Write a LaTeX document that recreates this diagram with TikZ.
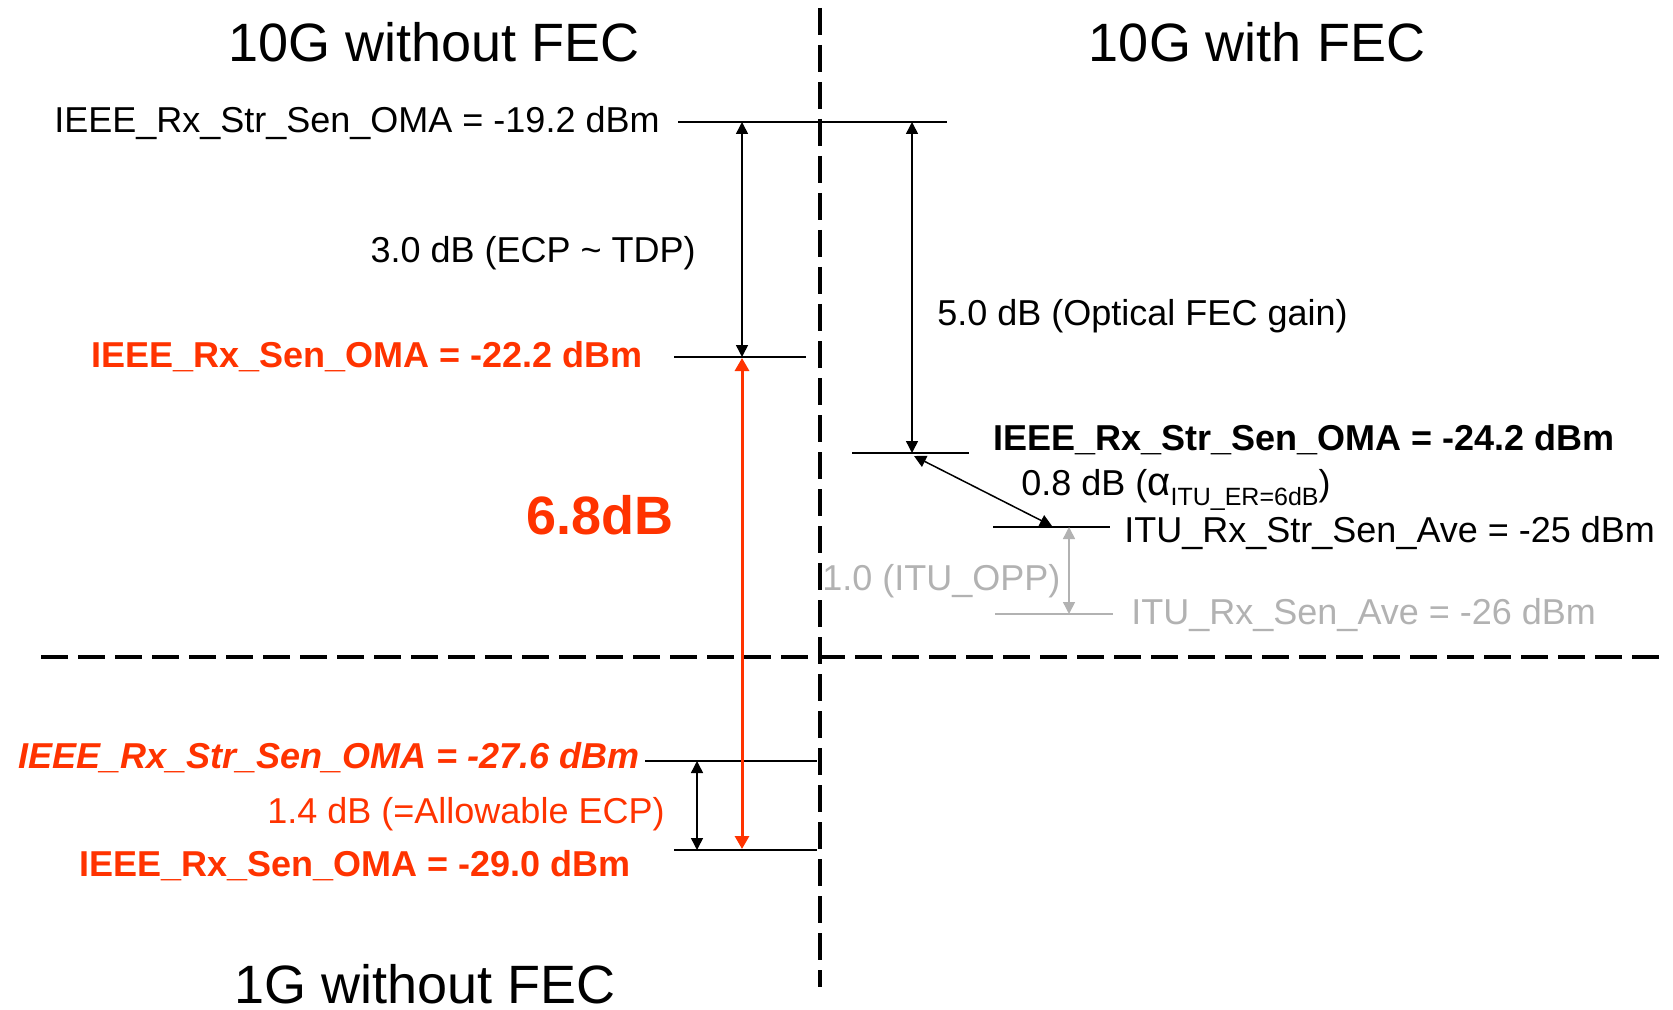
\documentclass[tikz,border=0pt]{standalone}
\usepackage{fontspec}
\setmainfont{Liberation Sans}
\usetikzlibrary{arrows.meta}
\definecolor{fecred}{RGB}{255,51,0}
\definecolor{itugrey}{RGB}{178,178,178}
\newcommand{\lblfont}{\fontsize{18}{22}\selectfont}
\newcommand{\ttlfont}{\fontsize{27}{32}\selectfont}
\begin{document}
\begin{tikzpicture}[x=0.5pt, y=-0.5pt, >={Triangle[length=6pt,width=6pt]},
  lvl/.style={line width=0.9pt},
  dim/.style={<->, line width=0.75pt},
  txt/.style={inner sep=0pt, font=\lblfont},
  ttl/.style={inner sep=0pt, font=\ttlfont, anchor=base}]
\useasboundingbox (0,0) rectangle (1673,1010);

% dashed separators
\draw[line width=1.75pt, dash pattern=on 13.5pt off 5pt] (820,8) -- (820,987);
\draw[line width=1.9pt, dash pattern=on 13.5pt off 5pt] (41,657) -- (1664,657);

% titles
\node[ttl] (h10) at (434,62) {10G without FEC};
\node[ttl] (h10f) at (1257,62) {10G with FEC};
\node[ttl] (h1) at (425,1003) {1G without FEC};

% levels
\coordinate (l1a) at (678,122);  \coordinate (l1b) at (947,122);
\coordinate (l2a) at (674,357);  \coordinate (l2b) at (806,357);
\coordinate (l3a) at (852,453);  \coordinate (l3b) at (969,453);
\coordinate (l4a) at (993,527);  \coordinate (l4b) at (1110,527);
\coordinate (l5a) at (995,614);  \coordinate (l5b) at (1113,614);
\coordinate (l6a) at (645,761);  \coordinate (l6b) at (817,761);
\coordinate (l7a) at (674,850);  \coordinate (l7b) at (817,850);
\draw[lvl] (l1a) -- (l1b);
\draw[lvl] (l2a) -- (l2b);
\draw[lvl] (l3a) -- (l3b);
\draw[lvl] (l4a) -- (l4b);
\draw[lvl, itugrey] (l5a) -- (l5b);
\draw[lvl] (l6a) -- (l6b);
\draw[lvl] (l7a) -- (l7b);

% labels
\node[txt, anchor=base east] (s19) at (660,133) {IEEE\_Rx\_Str\_Sen\_OMA = -19.2 dBm};
\node[txt, anchor=base east] (ecp) at (696,263) {3.0 dB (ECP \textasciitilde{} TDP)};
\node[txt, anchor=base east, text=fecred, font=\lblfont\bfseries] (s22) at (643,367) {IEEE\_Rx\_Sen\_OMA = -22.2 dBm};
\node[txt, anchor=base, text=fecred, font=\ttlfont\bfseries] (gap) at (600,534) {6.8dB};
\node[txt, anchor=base west] (fec) at (937,325) {5.0 dB (Optical FEC gain)};
\node[txt, anchor=base west, font=\lblfont\bfseries] (s24) at (993,450) {IEEE\_Rx\_Str\_Sen\_OMA = -24.2 dBm};
\node[txt, anchor=base west] (er) at (1021,495) {0.8 dB ({\fontsize{20}{22}\selectfont α}\raisebox{-0.3em}{\fontsize{12.5}{13}\selectfont ITU\_ER=6dB})};
\node[txt, anchor=base west] (s25) at (1124,542) {ITU\_Rx\_Str\_Sen\_Ave = -25 dBm};
\node[txt, anchor=base west, text=itugrey] (opp) at (822,590) {1.0 (ITU\_OPP)};
\node[txt, anchor=base west, text=itugrey] (s26) at (1131,624) {ITU\_Rx\_Sen\_Ave = -26 dBm};
\node[txt, anchor=base east, text=fecred, font=\lblfont\bfseries\itshape] (s27) at (640,768) {IEEE\_Rx\_Str\_Sen\_OMA = -27.6 dBm};
\node[txt, anchor=base east, text=fecred] (aecp) at (665,823) {1.4 dB (=Allowable ECP)};
\node[txt, anchor=base east, text=fecred, font=\lblfont\bfseries] (s29) at (631,876) {IEEE\_Rx\_Sen\_OMA = -29.0 dBm};

% dimension arrows
\coordinate (d1t) at (742,122);  \coordinate (d1b) at (742,357);
\coordinate (d2t) at (912,122);  \coordinate (d2b) at (912,453);
\coordinate (d3t) at (914,456);  \coordinate (d3b) at (1052,526);
\coordinate (d4t) at (1069,527); \coordinate (d4b) at (1069,614);
\coordinate (d5t) at (742,358);  \coordinate (d5b) at (742,849);
\coordinate (d6t) at (697,761);  \coordinate (d6b) at (697,850);
\draw[dim] (d1t) -- (d1b);
\draw[dim] (d2t) -- (d2b);
\draw[dim] (d3t) -- (d3b);
\draw[dim, itugrey] (d4t) -- (d4b);
\draw[<->, fecred, line width=1.5pt, >={Triangle[length=6.5pt,width=7pt]}] (d5t) -- (d5b);
\draw[dim] (d6t) -- (d6b);
\end{tikzpicture}
\end{document}
